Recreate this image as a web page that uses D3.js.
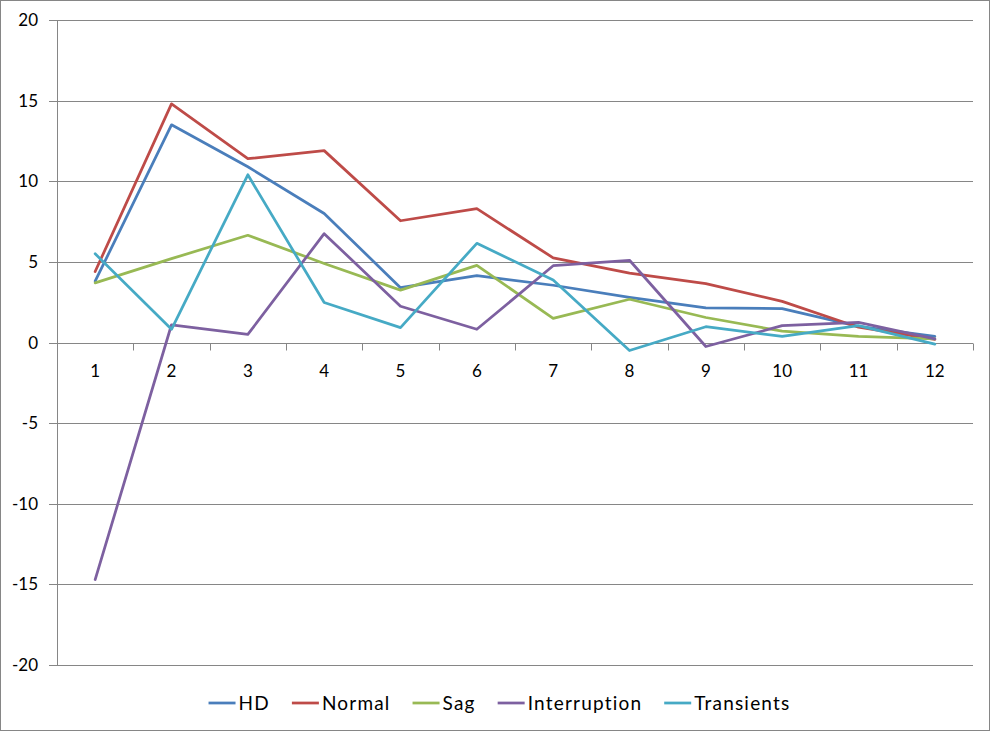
<!DOCTYPE html>
<html>
<head>
<meta charset="utf-8">
<script src="https://cdn.jsdelivr.net/npm/d3@7"></script>
<style>
  html, body { margin: 0; padding: 0; background: #fff; }
  svg { display: block; font-family: Lato, "Open Sans", sans-serif; }
</style>
</head>
<body>
<svg id="chart" width="990" height="731"></svg>
<script>
const categories = ["1","2","3","4","5","6","7","8","9","10","11","12"];
const seriesNames = ["HD","Normal","Sag","Interruption","Transients"];
const seriesColors = ["#4A7EBB","#BE4B48","#98B954","#7D60A0","#46AAC5"];
const hdValues = [3.8, 13.5, 10.9, 8.0, 3.4, 4.15, 3.55, 2.8, 2.15, 2.1, 1.0, 0.38];
const normalValues = [4.4, 14.8, 11.4, 11.9, 7.55, 8.3, 5.25, 4.3, 3.65, 2.55, 0.95, 0.2];
const sagValues = [3.7, 5.2, 6.65, 4.9, 3.25, 4.78, 1.5, 2.68, 1.55, 0.7, 0.38, 0.22];
const interruptionValues = [-14.7, 1.1, 0.5, 6.75, 2.25, 0.82, 4.76, 5.1, -0.25, 1.05, 1.25, 0.22];
const transientsValues = [5.5, 0.82, 10.4, 2.48, 0.92, 6.15, 3.88, -0.5, 0.98, 0.38, 1.05, -0.1];
const yTicks = [-20, -15, -10, -5, 0, 5, 10, 15, 20];

const seriesValues = [hdValues, normalValues, sagValues, interruptionValues, transientsValues];

(function () {
const svg = d3.select("#chart");
const W = 990, H = 731;
const mLeft = 57, mRight = 973, mTop = 20, mBottom = 665;
const gridColor = "#868686";

svg.append("rect").attr("x", 0.5).attr("y", 0.5).attr("width", W - 1).attr("height", H - 1)
  .attr("fill", "#fff").attr("stroke", gridColor).attr("stroke-width", 1);

const x = d3.scaleBand().domain(categories).range([mLeft, mRight]).paddingInner(0).paddingOuter(0);
const y = d3.scaleLinear().domain([-20, 20]).range([mBottom, mTop]);

// gridlines
svg.append("g").selectAll("line").data(yTicks).join("line")
  .attr("x1", mLeft - 8).attr("x2", mRight)
  .attr("y1", d => Math.round(y(d)) + 0.5).attr("y2", d => Math.round(y(d)) + 0.5)
  .attr("stroke", gridColor).attr("stroke-width", 1);

// y axis line
svg.append("line").attr("x1", mLeft + 0.5).attr("x2", mLeft + 0.5)
  .attr("y1", Math.round(y(20)) + 0.5).attr("y2", Math.round(y(-20)) + 0.5)
  .attr("stroke", gridColor).attr("stroke-width", 1);

// y labels
svg.append("g").selectAll("text").data(yTicks).join("text")
  .attr("x", 38).attr("y", d => y(d)).attr("dy", "0.36em")
  .attr("text-anchor", "end").attr("font-size", 17).attr("fill", "#000")
  .text(d => d < 0 ? "-" + Math.abs(d) : String(d));

// x axis ticks at zero line
const y0 = Math.round(y(0)) + 0.5;
const boundaries = categories.map(c => x(c)).concat([x(categories[categories.length - 1]) + x.bandwidth()]);
svg.append("g").selectAll("line").data(boundaries).join("line")
  .attr("x1", d => Math.round(d) + 0.5).attr("x2", d => Math.round(d) + 0.5)
  .attr("y1", y0).attr("y2", y0 + 7)
  .attr("stroke", gridColor).attr("stroke-width", 1);

// x labels
svg.append("g").selectAll("text").data(categories).join("text")
  .attr("x", d => x(d) + x.bandwidth() / 2).attr("y", y(0) + 28).attr("dy", "0.36em")
  .attr("text-anchor", "middle").attr("font-size", 17).attr("fill", "#000")
  .text(d => d);

// lines
const line = d3.line().x((d, i) => x(categories[i]) + x.bandwidth() / 2).y(d => y(d));
seriesValues.forEach((vals, si) => {
  svg.append("path").datum(vals).attr("d", line)
    .attr("fill", "none").attr("stroke", seriesColors[si]).attr("stroke-width", 2.75)
    .attr("stroke-linejoin", "round").attr("stroke-linecap", "round");
});

// legend
const legend = svg.append("g");
let cx = 0;
const gap = 22;
seriesNames.forEach((name, i) => {
  const g = legend.append("g");
  g.append("line").attr("x1", 0).attr("x2", 27).attr("y1", 0).attr("y2", 0)
    .attr("stroke", seriesColors[i]).attr("stroke-width", 2.75);
  const t = g.append("text").attr("x", 30).attr("y", 0).attr("dy", "0.36em")
    .attr("font-size", 19).attr("letter-spacing", "1.2px").attr("fill", "#000").text(name);
  const w = 30 + t.node().getComputedTextLength();
  g.attr("transform", `translate(${cx},0)`);
  cx += w + gap;
});
const totalW = cx - gap;
legend.attr("transform", `translate(${(205 + 794) / 2 - totalW / 2},703)`);
})();
</script>
</body>
</html>
